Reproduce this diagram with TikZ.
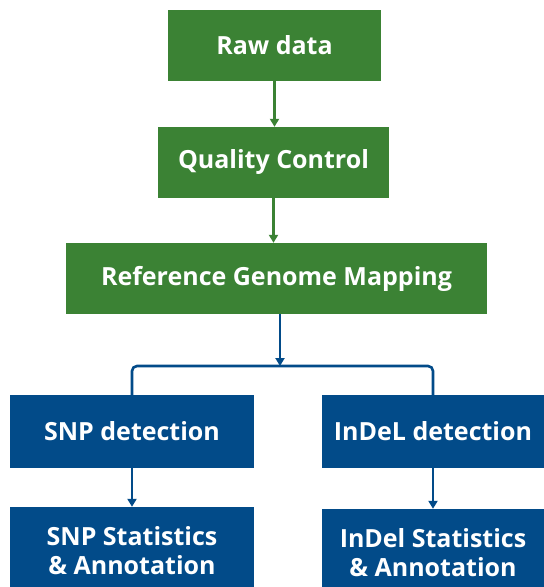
\documentclass[tikz,border=0pt]{standalone}
\usepackage{fontspec}
\setmainfont{Open Sans}
\usetikzlibrary{arrows.meta}
\definecolor{stepgreen}{HTML}{3B8234}
\definecolor{stepblue}{HTML}{024B89}
\tikzset{
    box/.style={text=white, inner sep=0pt, align=center,
        font=\bfseries\fontsize{25}{29}\selectfont},
    greenbox/.style={box, fill=stepgreen, minimum height=71pt},
    bluebox/.style={box, fill=stepblue},
    flow/.style={line width=2.6pt, -{Triangle[width=9pt,length=8pt]}}
}
\begin{document}
\begin{tikzpicture}[x=1pt, y=-1pt]
    \useasboundingbox (0,0) rectangle (544,587);
    % pipeline steps
    \node[greenbox, minimum width=213pt] (raw) at (274.5,45.5) {Raw data};
    \node[greenbox, minimum width=231pt] (qc)  at (273.5,162.5) {Quality Control};
    \node[greenbox, minimum width=421pt] (ref) at (276.5,278.5) {Reference Genome Mapping};
    % variant calling
    \node[bluebox, minimum width=244pt, minimum height=73pt] (snp)   at (132,431.5) {SNP detection};
    \node[bluebox, minimum width=222pt, minimum height=73pt] (indel) at (433,431.5) {InDeL detection};
    \node[bluebox, minimum width=244pt, minimum height=88pt] (snpstat)   at (132,551) {SNP Statistics\\\& Annotation};
    \node[bluebox, minimum width=222pt, minimum height=88pt] (indelstat) at (433,553) {InDel Statistics\\\& Annotation};
    \coordinate (split) at (280,366);
    % connectors
    \draw[flow, stepgreen] (raw.south) -- (raw.south |- qc.north);
    \draw[flow, stepgreen] (qc.south) -- (qc.south |- ref.north);
    \draw[flow, stepblue] (split |- ref.south) -- (split);
    \draw[stepblue, line width=2.6pt, rounded corners=5pt] (snp.north) |- (split) -| (indel.north);
    \draw[flow, stepblue] (snp.south) -- (snpstat.north);
    \draw[flow, stepblue] (indel.south) -- (indelstat.north);
\end{tikzpicture}
\end{document}
